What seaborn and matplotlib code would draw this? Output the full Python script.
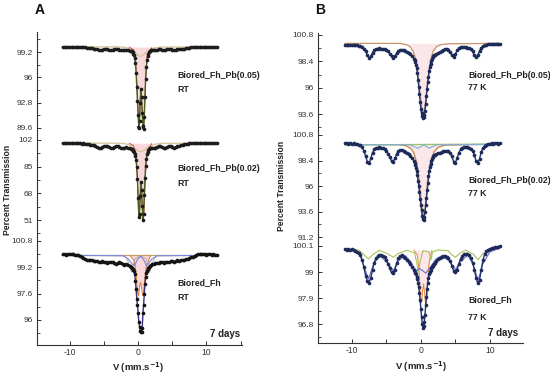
import matplotlib
matplotlib.use("Agg")
import matplotlib.pyplot as plt
import seaborn as sns
import pandas as pd
from matplotlib.ticker import FixedLocator, FixedFormatter, AutoMinorLocator

# ---------------- velocity grid (mm/s) ----------------
V_LEFT = [-11.0, -10.75, -10.5, -10.25, -10.0, -9.75, -9.5, -9.25, -9.0, -8.75,
          -8.5, -8.25, -8.0, -7.75, -7.5, -7.25, -7.0, -6.75, -6.5, -6.25,
          -6.0, -5.75, -5.5, -5.25, -5.0, -4.75, -4.5, -4.25, -4.0, -3.75,
          -3.5, -3.25, -3.0, -2.75, -2.5, -2.25, -2.0, -1.75, -1.5, -1.25, -1.0]
V_INNER = [-0.9, -0.8, -0.7, -0.6, -0.5, -0.4, -0.3, -0.2, -0.1, 0.0,
           0.1, 0.2, 0.3, 0.4, 0.5, 0.6, 0.7, 0.8, 0.9, 1.0,
           1.1, 1.2, 1.3, 1.4, 1.5, 1.6, 1.7, 1.8, 1.9]
V_RIGHT = [2.0, 2.25, 2.5, 2.75, 3.0, 3.25, 3.5, 3.75, 4.0, 4.25,
           4.5, 4.75, 5.0, 5.25, 5.5, 5.75, 6.0, 6.25, 6.5, 6.75,
           7.0, 7.25, 7.5, 7.75, 8.0, 8.25, 8.5, 8.75, 9.0, 9.25,
           9.5, 9.75, 10.0, 10.25, 10.5, 10.75, 11.0, 11.25, 11.5]

# ---------------- measured transmission (%) ----------------
# A1: Biored_Fh_Pb(0.05), RT
A1_LEFT = [99.83, 99.81, 99.84, 99.82, 99.80, 99.83, 99.82, 99.80, 99.83, 99.81,
           99.82, 99.80, 99.81, 99.78, 99.76, 99.72, 99.70, 99.66, 99.62, 99.58,
           99.52, 99.46, 99.44, 99.50, 99.58, 99.60, 99.56, 99.50, 99.45, 99.48,
           99.55, 99.60, 99.55, 99.48, 99.42, 99.45, 99.50, 99.50, 99.45, 99.38, 99.30]
A1_INNER = [99.3, 99.2, 99.0, 98.8, 98.4, 97.8, 96.6, 94.8, 93.0, 91.2,
            89.6, 90.5, 92.8, 94.5, 93.5, 91.5, 89.8, 89.5, 91.0, 93.5,
            95.8, 97.3, 98.2, 98.7, 99.0, 99.2, 99.3, 99.38, 99.42]
A1_RIGHT = [99.45, 99.50, 99.45, 99.48, 99.55, 99.60, 99.50, 99.45, 99.48, 99.55,
            99.60, 99.55, 99.50, 99.47, 99.50, 99.56, 99.62, 99.58, 99.52, 99.56,
            99.65, 99.72, 99.77, 99.80, 99.82, 99.81, 99.83, 99.80, 99.82, 99.84,
            99.81, 99.83, 99.80, 99.82, 99.84, 99.81, 99.83, 99.82, 99.80]

# A2: Biored_Fh_Pb(0.02), RT
A2_LEFT = [99.9, 100.1, 99.8, 100.0, 99.9, 100.1, 99.8, 99.9, 100.0, 99.8,
           99.9, 99.7, 99.8, 99.6, 99.5, 99.3, 99.1, 98.8, 98.5, 98.1,
           97.6, 97.1, 96.9, 97.3, 97.9, 98.2, 97.9, 97.3, 96.8, 96.9,
           97.5, 98.1, 98.0, 97.5, 96.9, 96.7, 97.0, 97.3, 97.2, 96.8, 96.2]
A2_INNER = [96.0, 95.5, 95.0, 94.3, 93.3, 92.0, 89.5, 85.0, 77.0, 65.0,
            53.0, 55.0, 66.0, 75.0, 70.0, 60.0, 51.0, 55.0, 67.0, 78.0,
            85.5, 90.0, 92.8, 94.5, 95.5, 96.2, 96.6, 96.9, 97.0]
A2_RIGHT = [97.0, 96.8, 97.2, 97.8, 98.2, 98.0, 97.4, 97.0, 97.2, 97.8,
            98.3, 98.2, 97.6, 97.2, 97.3, 97.9, 98.4, 98.7, 98.9, 99.2,
            99.4, 99.6, 99.75, 99.8, 99.9, 100.1, 99.8, 100.0, 99.9, 100.1,
            99.8, 99.9, 100.0, 99.9, 100.1, 99.8, 100.0, 99.9, 100.0]

# A3: Biored_Fh, RT
A3_LEFT = [99.98, 100.02, 99.96, 100.0, 100.03, 99.99, 100.01, 99.95, 99.97, 99.93,
           99.88, 99.84, 99.78, 99.72, 99.66, 99.63, 99.66, 99.62, 99.58, 99.6,
           99.56, 99.52, 99.55, 99.58, 99.54, 99.5, 99.47, 99.5, 99.53, 99.5,
           99.45, 99.42, 99.46, 99.5, 99.45, 99.4, 99.36, 99.38, 99.34, 99.28, 99.22]
A3_INNER = [99.18, 99.12, 99.05, 98.95, 98.8, 98.35, 97.9, 97.3, 96.9, 96.4,
            95.9, 95.6, 95.35, 95.25, 95.3, 95.5, 96.4, 96.9, 97.6, 98.2,
            98.6, 98.85, 99.0, 99.1, 99.15, 99.2, 99.25, 99.3, 99.34]
A3_RIGHT = [99.38, 99.4, 99.44, 99.48, 99.45, 99.5, 99.53, 99.48, 99.5, 99.55,
            99.52, 99.56, 99.6, 99.55, 99.58, 99.62, 99.6, 99.64, 99.62, 99.66,
            99.7, 99.68, 99.74, 99.8, 99.85, 99.9, 99.95, 99.98, 100.02, 99.99,
            100.03, 100.0, 99.97, 100.02, 100.0, 99.96, 99.99, 99.97, 99.95]

# B1: Biored_Fh_Pb(0.05), 77 K
B1_LEFT = [99.9, 99.92, 99.88, 99.9, 99.87, 99.9, 99.86, 99.85, 99.82, 99.78,
           99.7, 99.55, 99.3, 98.95, 98.7, 98.85, 99.2, 99.42, 99.52, 99.56,
           99.58, 99.56, 99.55, 99.5, 99.42, 99.3, 99.1, 98.85, 98.7, 98.85,
           99.15, 99.35, 99.45, 99.45, 99.42, 99.35, 99.28, 99.18, 99.05, 98.88, 98.65]
B1_INNER = [98.5, 98.3, 98.1, 97.8, 97.3, 96.7, 96.1, 95.4, 94.7, 94.1,
            93.7, 93.4, 93.25, 93.3, 93.5, 93.9, 94.5, 95.2, 95.9, 96.5,
            97.0, 97.5, 97.9, 98.2, 98.45, 98.6, 98.75, 98.85, 98.95]
B1_RIGHT = [98.95, 99.05, 99.15, 99.25, 99.35, 99.45, 99.5, 99.52, 99.45, 99.25,
            98.95, 98.8, 99.05, 99.4, 99.6, 99.68, 99.7, 99.72, 99.7, 99.66,
            99.6, 99.5, 99.3, 98.95, 98.75, 98.95, 99.35, 99.65, 99.8, 99.88,
            99.92, 99.95, 99.98, 99.96, 100.0, 99.98, 100.02, 100.0, 99.98]

# B2: Biored_Fh_Pb(0.02), 77 K
B2_LEFT = [100.02, 100.05, 100.0, 100.03, 99.98, 100.01, 99.97, 99.95, 99.9, 99.82,
           99.65, 99.3, 98.8, 98.3, 98.15, 98.6, 99.15, 99.45, 99.58, 99.62,
           99.63, 99.6, 99.55, 99.45, 99.3, 99.05, 98.7, 98.35, 98.3, 98.6,
           99.05, 99.3, 99.38, 99.35, 99.28, 99.2, 99.1, 98.98, 98.85, 98.65, 98.4]
B2_INNER = [98.2, 98.0, 97.7, 97.4, 97.0, 96.5, 96.0, 95.4, 94.8, 94.2,
            93.7, 93.2, 92.9, 92.8, 93.1, 93.6, 94.2, 94.9, 95.6, 96.3,
            96.9, 97.4, 97.8, 98.1, 98.35, 98.55, 98.7, 98.8, 98.9]
B2_RIGHT = [98.95, 99.02, 99.08, 99.15, 99.2, 99.25, 99.3, 99.32, 99.3, 99.15,
            98.8, 98.3, 98.2, 98.6, 99.15, 99.45, 99.6, 99.65, 99.66, 99.64,
            99.6, 99.5, 99.3, 98.9, 98.35, 98.15, 98.55, 99.2, 99.6, 99.8,
            99.9, 99.95, 100.0, 100.03, 99.98, 100.02, 100.05, 100.0, 100.02]

# B3: Biored_Fh, 77 K
B3_LEFT = [99.97, 99.95, 99.98, 99.94, 99.96, 99.93, 99.9, 99.86, 99.8, 99.7,
           99.5, 99.2, 98.85, 98.6, 98.55, 98.75, 99.1, 99.4, 99.58, 99.66,
           99.7, 99.7, 99.68, 99.62, 99.5, 99.35, 99.15, 98.98, 98.95, 99.1,
           99.38, 99.58, 99.68, 99.7, 99.65, 99.58, 99.5, 99.42, 99.32, 99.2, 99.08]
B3_INNER = [99.0, 98.95, 98.9, 98.8, 98.7, 98.55, 98.35, 98.1, 97.8, 97.45,
            97.1, 96.8, 96.65, 96.7, 96.9, 97.2, 97.6, 97.95, 98.3, 98.55,
            98.75, 98.9, 99.0, 99.1, 99.15, 99.2, 99.25, 99.3, 99.35]
B3_RIGHT = [99.4, 99.48, 99.55, 99.6, 99.65, 99.68, 99.68, 99.65, 99.58, 99.45,
            99.25, 99.05, 98.98, 99.1, 99.35, 99.55, 99.68, 99.74, 99.76, 99.75,
            99.7, 99.6, 99.4, 99.1, 98.75, 98.52, 98.65, 99.1, 99.5, 99.75,
            99.88, 99.95, 99.98, 100.0, 100.02, 100.04, 100.06, 100.07, 100.08]

# ---------------- fitted sub-spectra (read at key velocities) ----------------
FH_BROAD_V = [-11.2, -3.0, -2.0, -1.3, -0.8, -0.4, 0.0, 0.35, 0.7, 1.1, 1.6, 2.3, 3.3, 11.7]
A1_BROAD_T = [99.86, 99.85, 99.8, 99.65, 99.4, 99.1, 98.8, 98.65, 98.8, 99.1, 99.45, 99.7, 99.82, 99.86]
A2_BROAD_T = [99.95, 99.93, 99.7, 99.0, 97.8, 96.3, 95.0, 94.5, 95.0, 96.3, 97.9, 99.1, 99.8, 99.95]
RT_DOUBLET_V = [-1.3, -0.7, -0.45, -0.3, -0.15, 0.0, 0.1, 0.2, 0.3, 0.4, 0.5, 0.6, 0.7, 0.8, 0.95, 1.1, 1.35, 2.0]
A1_DOUBLET_T = [99.82, 99.5, 98.6, 97.2, 94.8, 91.5, 89.8, 90.8, 93.0, 94.3, 93.2, 91.3, 89.9, 89.6, 92.5, 96.0, 98.8, 99.75]
A2_DOUBLET_T = [99.9, 98.5, 95.0, 89.0, 80.0, 64.0, 53.5, 56.0, 66.0, 74.0, 69.0, 59.0, 51.5, 53.0, 66.0, 82.0, 95.0, 99.7]

A3_BASE_V = [-11.2, 11.7]
A3_BASE_T = [99.93, 99.93]
A3_DOUBLET_V = [-1.2, -0.6, -0.35, -0.2, -0.1, 0.05, 0.2, 0.35, 0.5, 0.65, 0.8, 0.95, 1.2, 1.8]
A3_DOUBLET_T = [99.93, 99.6, 99.0, 98.3, 97.7, 97.45, 98.0, 98.3, 98.0, 97.5, 97.6, 98.4, 99.3, 99.9]
A3_BLUE_V = [-11.2, -2.2, -1.4, -0.9, -0.5, -0.2, 0.35, 0.9, 1.2, 1.5, 2.0, 2.8, 11.7]
A3_BLUE_T = [99.93, 99.9, 99.7, 99.4, 99.3, 99.6, 99.88, 99.6, 99.3, 99.4, 99.7, 99.9, 99.93]
A3_GREY_V = [-11.2, -2.0, -1.5, -1.2, -1.0, -0.8, -0.5, 0.35, 1.2, 1.5, 1.7, 1.9, 2.2, 2.7, 11.7]
A3_GREY_T = [99.93, 99.9, 99.6, 99.2, 98.9, 99.2, 99.7, 99.9, 99.7, 99.2, 98.9, 99.2, 99.6, 99.9, 99.93]

B1_BROWN_V = [-11.0, -3.0, -2.0, -1.5, -1.1, -0.8, -0.5, -0.2, 0.1, 0.35, 0.6, 0.9, 1.2, 1.5, 1.8, 2.3, 3.0, 4.0, 11.2]
B1_BROWN_T = [100.04, 100.03, 99.9, 99.7, 99.3, 98.7, 97.6, 96.0, 94.3, 93.4, 94.3, 96.0, 97.6, 98.7, 99.35, 99.75, 99.93, 100.0, 100.04]

B2_GREEN_V = [-11.0, 11.3]
B2_GREEN_T = [99.87, 99.95]
B2_BLUE_V = [-11.0, -1.6, -0.9, -0.45, 0.0, 0.45, 0.85, 1.25, 1.65, 2.3, 11.3]
B2_BLUE_T = [99.9, 99.88, 99.7, 99.55, 99.72, 99.86, 99.72, 99.55, 99.7, 99.88, 99.93]
B2_BROWN_V = [-11.0, -3.0, -2.0, -1.4, -1.0, -0.6, -0.3, 0.0, 0.2, 0.4, 0.6, 0.9, 1.2, 1.5, 1.9, 2.5, 3.5, 11.3]
B2_BROWN_T = [99.9, 99.88, 99.75, 99.5, 99.1, 98.2, 96.8, 94.9, 93.6, 93.1, 93.6, 95.3, 97.1, 98.4, 99.2, 99.65, 99.85, 99.93]

B3_GREEN_V = [-11.0, -9.0, -8.3, -7.6, -6.9, -6.0, -4.7, -4.0, -3.3, -2.0, -0.9, -0.6, -0.35, -0.1, 0.3,
              1.2, 1.45, 1.7, 2.5, 4.0, 4.4, 5.0, 5.6, 6.5, 7.6, 8.3, 9.0, 10.0, 11.2]
B3_GREEN_T = [99.95, 99.93, 99.75, 99.55, 99.75, 99.92, 99.75, 99.62, 99.78, 99.92, 99.8, 99.4, 99.0, 99.45, 99.9,
              99.85, 99.5, 99.85, 99.93, 99.9, 99.75, 99.62, 99.78, 99.93, 99.75, 99.52, 99.78, 99.95, 99.98]
B3_BLUE_V = [-11.0, -9.0, -8.3, -7.6, -6.9, -6.0, -4.7, -4.0, -3.3, -2.3, -1.5, -1.0, -0.6, -0.2, 0.3,
             0.7, 1.1, 1.6, 2.2, 3.0, 4.2, 5.0, 5.8, 6.8, 7.6, 8.3, 9.0, 10.0, 11.2]
B3_BLUE_T = [99.95, 99.85, 99.3, 98.7, 99.3, 99.7, 99.35, 99.05, 99.45, 99.7, 99.45, 99.2, 99.05, 99.15, 99.05,
             98.95, 99.1, 99.3, 99.55, 99.68, 99.45, 99.1, 99.45, 99.72, 99.3, 98.65, 99.35, 99.85, 99.98]
B3_DOUBLET_V = [-1.0, -0.5, -0.3, -0.15, -0.05, 0.1, 0.25, 0.4, 0.55, 0.7, 0.85, 1.0, 1.2, 1.6]
B3_DOUBLET_T = [99.93, 99.7, 99.2, 98.5, 97.9, 97.7, 98.2, 98.5, 98.1, 97.6, 97.8, 98.6, 99.4, 99.9]

# ---------------- axis ticks ----------------
A1_TICKS = [99.2, 96, 92.8, 89.6]
A2_TICKS = [102, 85, 68, 51]
A3_TICKS = [100.8, 99.2, 97.6, 96]
B1_TICKS = [100.8, 98.4, 96, 93.6]
B2_TICKS = [100.8, 98.4, 96, 93.6, 91.2]
B3_TICKS = [100.1, 99, 97.9, 96.8]
X_TICKS = [-10, 0, 10]
X_MINOR = [-15, -5, 5, 15]

# ---------------- style ----------------
sns.set_theme(style="ticks")
plt.rcParams["font.family"] = ["Liberation Sans", "DejaVu Sans"]
plt.rcParams["axes.linewidth"] = 0.8
plt.rcParams["axes.unicode_minus"] = False

W, H = 550, 379
fig = plt.figure(figsize=(5.5, 3.79), dpi=100)


def px_axes(x0, x1, y0, y1):
    ax = fig.add_axes([x0 / W, 1 - y1 / H, (x1 - x0) / W, (y1 - y0) / H])
    ax.set_facecolor("none")
    return ax


def fmt(t):
    return ("%g" % t)


def style(ax, xlim, ylim, ticks, bottom=False):
    ax.set_xlim(*xlim)
    ax.set_ylim(*ylim)
    ax.set_xlabel("")
    ax.set_ylabel("")
    for s in ["top", "right"]:
        ax.spines[s].set_visible(False)
    ax.spines["left"].set_color("#333333")
    ax.yaxis.set_major_locator(FixedLocator(ticks))
    ax.yaxis.set_major_formatter(FixedFormatter([fmt(t) for t in ticks]))
    ax.yaxis.set_minor_locator(AutoMinorLocator(2))
    ax.tick_params(axis="y", which="major", direction="in", length=3, width=0.7,
                   labelsize=6, pad=3, colors="#333333")
    ax.tick_params(axis="y", which="minor", direction="in", length=1.8, width=0.6, colors="#333333")
    if bottom:
        ax.spines["bottom"].set_color("#333333")
        ax.xaxis.set_major_locator(FixedLocator(X_TICKS))
        ax.xaxis.set_minor_locator(FixedLocator(X_MINOR))
        ax.tick_params(axis="x", which="major", direction="in", length=3, width=0.7,
                       labelsize=6.2, pad=2.5, colors="#333333")
        ax.tick_params(axis="x", which="minor", direction="in", length=3, width=0.7, colors="#333333")
    else:
        ax.spines["bottom"].set_visible(False)
        ax.tick_params(axis="x", which="both", bottom=False, labelbottom=False)


def frame(left, inner, right):
    return pd.DataFrame({"v": V_LEFT + V_INNER + V_RIGHT, "T": left + inner + right})


def comp(ax, v, t, color, lw=0.8, fill=None, base=None, alpha=0.55, z=2):
    if fill is not None:
        ax.fill_between(v, t, base, color=fill, alpha=alpha, lw=0, zorder=1)
    sns.lineplot(x=v, y=t, ax=ax, color=color, lw=lw, estimator=None, sort=False, zorder=z)


def data(ax, df, dot, line, lw=1.0, s=6):
    sns.lineplot(data=df, x="v", y="T", ax=ax, color=line, lw=lw, estimator=None, sort=False, zorder=3)
    sns.scatterplot(data=df, x="v", y="T", ax=ax, color=dot, s=s, linewidth=0, zorder=4)


XA = (-14.8, 15.2)
XB = (-14.9, 14.8)
PINK = "#f5b8c0"

# ---------------- panel A ----------------
axA1 = px_axes(37, 242, 32, 134)
comp(axA1, FH_BROAD_V, A1_BROAD_T, "#d6c79f", lw=1.0)
comp(axA1, RT_DOUBLET_V, A1_DOUBLET_T, "#e0483c", lw=0.7, fill=PINK, base=99.82)
data(axA1, frame(A1_LEFT, A1_INNER, A1_RIGHT), "#1c1c1c", "#4b5e23", lw=1.0, s=7)
axA1.annotate("", xy=(0.05, 88.95), xytext=(0.05, 90.3),
              arrowprops=dict(arrowstyle="-|>", color="#222222", lw=0.6, mutation_scale=5))
axA1.annotate("", xy=(0.75, 88.95), xytext=(0.75, 90.3),
              arrowprops=dict(arrowstyle="-|>", color="#222222", lw=0.6, mutation_scale=5))
style(axA1, XA, (88.84, 101.73), A1_TICKS)

axA2 = px_axes(37, 242, 134, 237)
comp(axA2, FH_BROAD_V, A2_BROAD_T, "#d6c79f", lw=1.0)
comp(axA2, RT_DOUBLET_V, A2_DOUBLET_T, "#e0483c", lw=0.7, fill=PINK, base=99.9)
data(axA2, frame(A2_LEFT, A2_INNER, A2_RIGHT), "#1c1c1c", "#4b5e23", lw=1.0, s=7)
style(axA2, XA, (40.2, 105.8), A2_TICKS)

axA3 = px_axes(37, 242, 237, 345)
comp(axA3, A3_DOUBLET_V, A3_DOUBLET_T, "#e0782a", lw=0.7, fill=PINK, base=99.93)
comp(axA3, A3_BASE_V, A3_BASE_T, "#c8a15e", lw=0.9)
comp(axA3, A3_GREY_V, A3_GREY_T, "#a5a5a5", lw=0.6)
comp(axA3, A3_BLUE_V, A3_BLUE_T, "#7b86e0", lw=0.8)
data(axA3, frame(A3_LEFT, A3_INNER, A3_RIGHT), "#141414", "#3b2f86", lw=1.0, s=7)
style(axA3, XA, (94.48, 101.04), A3_TICKS, bottom=True)

# ---------------- panel B ----------------
axB1 = px_axes(318, 523, 33, 130)
comp(axB1, B1_BROWN_V, B1_BROWN_T, "#c8946a", lw=0.9, fill="#f8d0d4", base=100.04, alpha=0.5)
data(axB1, frame(B1_LEFT, B1_INNER, B1_RIGHT), "#1d2b5b", "#26346e", lw=1.0, s=7)
style(axB1, XB, (92.15, 100.98), B1_TICKS)

axB2 = px_axes(318, 523, 130, 241)
comp(axB2, B2_BROWN_V, B2_BROWN_T, "#c8803c", lw=0.9, fill="#f8d0d4", base=99.9, alpha=0.5)
comp(axB2, B2_GREEN_V, B2_GREEN_T, "#98c46a", lw=0.9)
comp(axB2, B2_BLUE_V, B2_BLUE_T, "#7faedc", lw=0.8)
data(axB2, frame(B2_LEFT, B2_INNER, B2_RIGHT), "#1d2b5b", "#26346e", lw=1.0, s=7)
style(axB2, XB, (90.83, 101.27), B2_TICKS)

axB3 = px_axes(318, 523, 241, 343)
comp(axB3, B3_DOUBLET_V, B3_DOUBLET_T, "#e8863c", lw=0.7, fill="#f8d0d4", base=99.93, alpha=0.5)
comp(axB3, B3_GREEN_V, B3_GREEN_T, "#a9c25a", lw=0.8)
comp(axB3, B3_BLUE_V, B3_BLUE_T, "#6a6ad0", lw=0.8)
data(axB3, frame(B3_LEFT, B3_INNER, B3_RIGHT), "#1d2b5b", "#26346e", lw=1.0, s=7)
style(axB3, XB, (96.0, 100.31), B3_TICKS, bottom=True)

# ---------------- texts ----------------
def ftext(x, y, s, **kw):
    fig.text(x / W, 1 - y / H, s, **kw)

bold = dict(fontsize=6.3, fontweight="bold", color="#222222", va="center", ha="left")
ftext(40, 10, "A", fontsize=10, fontweight="bold", ha="center", va="center", color="#111111")
ftext(320, 10, "B", fontsize=10, fontweight="bold", ha="center", va="center", color="#111111")

ftext(177, 75, "Biored_Fh_Pb(0.05)", **bold)
ftext(177, 90, "RT", **bold)
ftext(177, 169, "Biored_Fh_Pb(0.02)", **bold)
ftext(177, 183, "RT", **bold)
ftext(177, 283, "Biored_Fh", **bold)
ftext(177, 298, "RT", **bold)
ftext(210, 334, "7 days", fontsize=7, fontweight="bold", color="#222222", va="center", ha="left")

ftext(468, 75, "Biored_Fh_Pb(0.05)", **bold)
ftext(468, 88, "77 K", **bold)
ftext(468, 181, "Biored_Fh_Pb(0.02)", **bold)
ftext(468, 194, "77 K", **bold)
ftext(468, 300, "Biored_Fh", **bold)
ftext(468, 317, "77 K", **bold)
ftext(488, 333, "7 days", fontsize=7, fontweight="bold", color="#222222", va="center", ha="left")

ylab = dict(fontsize=6.2, fontweight="bold", color="#222222", rotation=90, ha="center", va="center")
ftext(8, 190, "Percent Transmission", **ylab)
ftext(282, 186, "Percent Transmission", **ylab)
xlab = dict(fontsize=6.8, fontweight="bold", color="#222222", ha="center", va="center")
ftext(138, 368, "V (mm.s$^{\\mathbf{-1}}$)", **xlab)
ftext(421, 367, "V (mm.s$^{\\mathbf{-1}}$)", **xlab)

fig.savefig("out.png", dpi=100)
